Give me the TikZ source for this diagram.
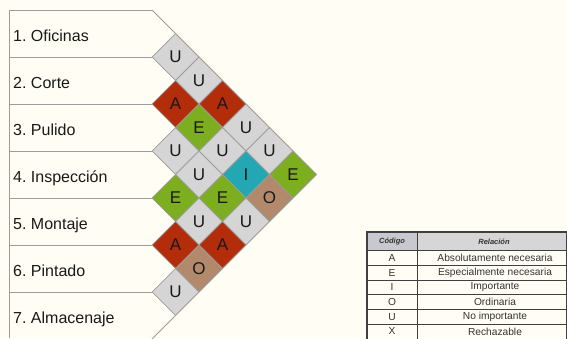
\documentclass[tikz,border=0pt]{standalone}
\usepackage{fontspec}
\setmainfont{Liberation Sans}
\usetikzlibrary{shapes.geometric}
\usepackage{xcolor}
\definecolor{paper}{HTML}{FFFDF4}
\definecolor{relA}{HTML}{B32D0A}
\definecolor{relE}{HTML}{7DAE1F}
\definecolor{relI}{HTML}{22A7B3}
\definecolor{relO}{HTML}{B28A6B}
\definecolor{relU}{HTML}{D5D5D5}
\definecolor{edge}{HTML}{9C9C9C}
\definecolor{head}{HTML}{D6D6D6}
\definecolor{headcode}{HTML}{C8C8CF}

\begin{document}
\begin{tikzpicture}[
    x=1pt, y=-1pt,
    rel/.style={diamond, aspect=1, minimum size=47pt, inner sep=0pt, draw=edge, line width=0.7pt, font=\fontsize{17}{17}\selectfont, text=black!90},
    lbl/.style={anchor=base west, inner sep=0pt, font=\fontsize{16}{16}\selectfont, text=black!90},
    rowline/.style={draw=edge, line width=0.9pt},
    cell/.style={inner sep=0pt, font=\fontsize{10.2}{11}\selectfont, text=black!80},
    hd/.style={inner sep=0pt, font=\fontsize{7.5}{8}\selectfont\bfseries\itshape, text=black!80},
    grid/.style={draw=black!75, line width=0.8pt}
]
    \useasboundingbox[fill=paper] (0,0) rectangle (567,338);

    % rows of the chart
    \foreach \k in {0,...,6}
        \draw[rowline] (9,{10+47*\k}) -- (152,{10+47*\k});
    \draw[rowline] (9,10) -- (9,338);
    \draw[rowline] (152,10) -- (316.5,174.5) -- (152,339);

    \foreach \n/\t in {1/Oficinas, 2/Corte, 3/Pulido, 4/Inspección, 5/Montaje, 6/Pintado, 7/Almacenaje}
        \node[lbl] (p\n) at (13,{10+47*(\n-0.5)+7.5}) {\n.~\t};

    % relation diamonds
    \foreach \i/\j/\c in {1/2/U, 1/3/U, 2/3/A, 1/4/A, 2/4/E, 1/5/U, 3/4/U, 2/5/U, 1/6/U,
                          3/5/U, 2/6/I, 1/7/E, 4/5/E, 3/6/E, 2/7/O, 4/6/U, 3/7/U,
                          5/6/A, 4/7/A, 5/7/O, 6/7/U}
        \node[rel, fill=rel\c] (d\i\j) at ({152+(\j-\i)*23.5},{10+(\i+\j-1)*23.5}) {\c};

    % legend table
    \fill[headcode] (367,232) rectangle (417,250.5);
    \fill[head] (417,232) rectangle (566.5,250.5);
    \node[hd] (hcode) at (392,241.5) {Código};
    \node[hd] (hrel) at (494,241.5) {Relación};
    \foreach \n/\c/\r in {1/A/Absolutamente necesaria, 2/E/Especialmente necesaria, 3/I/Importante,
                          4/O/Ordinaria, 5/U/No importante, 6/X/Rechazable} {
        \draw[grid] (367,{250.5+14.7*(\n-1)}) -- (566.5,{250.5+14.7*(\n-1)});
        \node[cell] (code\n) at (392,{250.5+14.7*(\n-0.5)}) {\c};
        \node[cell] (desc\n) at (495,{250.5+14.7*(\n-0.5)}) {\r};
    }
    \draw[grid] (417,232) -- (417,339);
    \draw[grid, line width=1.2pt] (367,339) -- (367,232) -- (566.5,232) -- (566.5,339);
\end{tikzpicture}
\end{document}
